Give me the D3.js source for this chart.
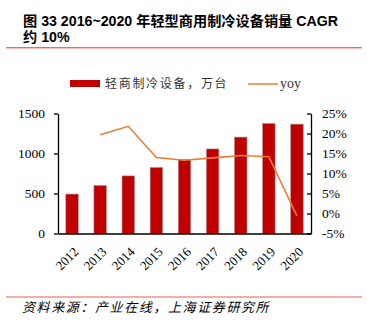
<!DOCTYPE html>
<html><head><meta charset="utf-8">
<script src="https://cdn.jsdelivr.net/npm/d3@7"></script>
<style>
html,body{margin:0;padding:0;background:#fff;}
svg{display:block;}
</style></head>
<body>
<svg id="c" width="367" height="324"></svg>
<script>
const years = ["2012","2013","2014","2015","2016","2017","2018","2019","2020"];
const sales = [493, 600, 720, 825, 925, 1057, 1205, 1375, 1367];
const yoy = [null, 19.7, 21.8, 14.0, 13.3, 13.9, 14.5, 14.2, -0.6];
const leftTicks = [0, 500, 1000, 1500];
const rightTicks = [-5, 0, 5, 10, 15, 20, 25];
const titleLines = ["图 33 2016~2020 年轻型商用制冷设备销量 CAGR", "约 10%"];
const legendLabels = ["轻商制冷设备，万台", "yoy"];
const sourceText = "资料来源：产业在线，上海证券研究所";

const svg = d3.select("#c");
const L = 58, R = 311, T = 113.5, B = 233.5;
const barColor = "#C00000", lineColor = "#ED7D31";
const serif = "'Liberation Serif','Times New Roman',serif";
const cjk = "'Noto Sans CJK SC','Noto Sans',sans-serif";

// title
svg.append("text").attr("x", 23).attr("y", 26)
  .attr("font-family", "'Liberation Sans'," + cjk).attr("font-weight", "bold")
  .attr("font-size", 14.2).attr("fill", "#000").text(titleLines[0]);
svg.append("text").attr("x", 23).attr("y", 42)
  .attr("font-family", "'Liberation Sans'," + cjk).attr("font-weight", "bold")
  .attr("font-size", 14.2).attr("fill", "#000").text(titleLines[1]);
svg.append("line").attr("x1", 6).attr("x2", 362).attr("y1", 47.8).attr("y2", 47.8)
  .attr("stroke", "#FF2020").attr("stroke-width", 1);

// scales
const x = d3.scaleBand().domain(years).range([L, R]).paddingInner(0.555).paddingOuter(0.2775);
const yL = d3.scaleLinear().domain([0, 1500]).range([B, T]);
const yR = d3.scaleLinear().domain([-5, 25]).range([B, T]);

// bars
svg.append("g").selectAll("rect").data(sales).join("rect")
  .attr("x", (d, i) => x(years[i]))
  .attr("width", x.bandwidth())
  .attr("y", d => yL(d))
  .attr("height", d => B - yL(d))
  .attr("fill", barColor).attr("stroke", "#B09090").attr("stroke-width", 0.6);

// line
const pts = yoy.map((v, i) => [years[i], v]).filter(d => d[1] !== null);
svg.append("path").datum(pts)
  .attr("d", d3.line().x(d => x(d[0]) + x.bandwidth() / 2).y(d => yR(d[1])))
  .attr("fill", "none").attr("stroke", lineColor).attr("stroke-width", 1.6);

// left axis
const gl = svg.append("g").attr("transform", `translate(${L},0)`)
  .call(d3.axisLeft(yL).tickValues(leftTicks).tickSize(4).tickSizeOuter(0).tickPadding(9).tickFormat(d3.format("d")));
gl.selectAll("text").attr("font-family", serif).attr("font-size", 13.5).attr("fill", "#000");
gl.selectAll("line,path").attr("stroke", "#000").attr("stroke-width", 1.3);

// right axis
const gr = svg.append("g").attr("transform", `translate(${R},0)`)
  .call(d3.axisRight(yR).tickValues(rightTicks).tickSize(-4).tickSizeOuter(0).tickPadding(11).tickFormat(d => d + "%"));
gr.selectAll("text").attr("font-family", serif).attr("font-size", 13.5).attr("fill", "#000");
gr.selectAll("line,path").attr("stroke", "#000").attr("stroke-width", 1.3);

// bottom axis
const gb = svg.append("g").attr("transform", `translate(0,${B})`)
  .call(d3.axisBottom(x).tickSize(0).tickSizeOuter(0).tickPadding(0));
gb.select("path").attr("stroke", "#000").attr("stroke-width", 1.3);
gb.selectAll("text")
  .attr("font-family", serif).attr("font-size", 13).attr("fill", "#000")
  .attr("text-anchor", "end")
  .attr("y", 0).attr("dy", "0.35em")
  .attr("transform", "translate(4,16) rotate(-45)");

// legend
svg.append("rect").attr("x", 70).attr("y", 80).attr("width", 30).attr("height", 7).attr("fill", barColor);
svg.append("text").attr("x", 105).attr("y", 88).attr("font-family", cjk).attr("font-size", 12)
  .attr("letter-spacing", 1.7).attr("fill", "#333").text(legendLabels[0]);
svg.append("line").attr("x1", 248).attr("x2", 278).attr("y1", 84).attr("y2", 84)
  .attr("stroke", lineColor).attr("stroke-width", 1.5);
svg.append("text").attr("x", 280).attr("y", 87.5).attr("font-family", serif).attr("font-size", 14)
  .attr("fill", "#333").text(legendLabels[1]);

// footer
svg.append("line").attr("x1", 6).attr("x2", 362).attr("y1", 297).attr("y2", 297)
  .attr("stroke", "#F49090").attr("stroke-width", 1.3);
svg.append("text").attr("x", 22).attr("y", 312).attr("font-family", cjk).attr("font-style", "italic")
  .attr("font-size", 13).attr("letter-spacing", 1.6).attr("fill", "#000").text(sourceText);
</script>
</body></html>
